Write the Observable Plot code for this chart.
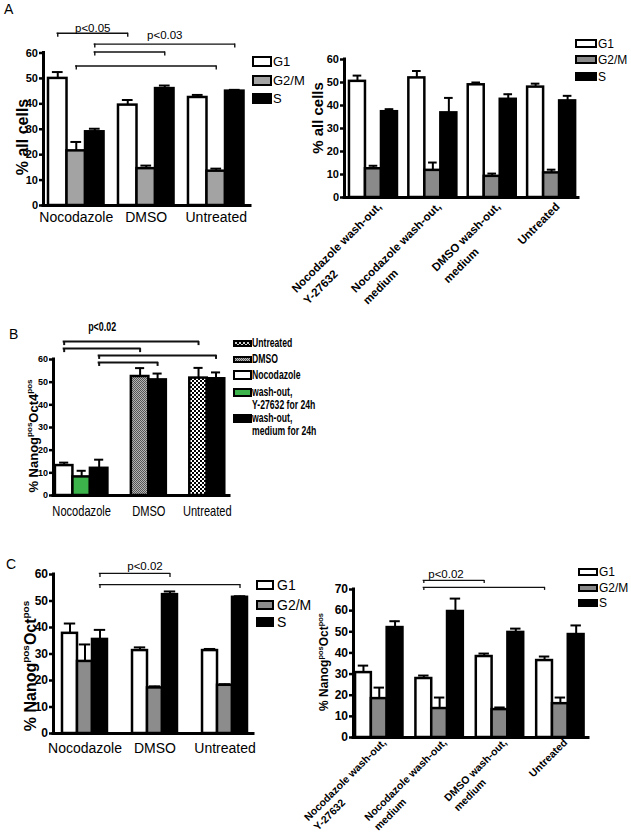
<!DOCTYPE html>
<html><head><meta charset="utf-8">
<script src="https://cdn.jsdelivr.net/npm/d3@7"></script>
<script src="https://cdn.jsdelivr.net/npm/@observablehq/plot@0.6"></script>
<style>
html,body{margin:0;padding:0;background:#fff;}
#fig{position:relative;width:631px;height:837px;overflow:hidden;background:#fff;font-family:"Liberation Sans",Arial,Helvetica,sans-serif;color:#000;}
.abs{position:absolute;white-space:pre;}
</style></head><body><div id="fig"></div>
<script>
// ---------------- DATA ----------------
const phases = ["G1", "G2/M", "S"];
const catsTreat = ["Nocodazole", "DMSO", "Untreated"];
const catsWash = ["Nocodazole wash-out,\nY-27632", "Nocodazole wash-out,\nmedium", "DMSO wash-out,\nmedium", "Untreated"];

// Panel A (left): % all cells
const aLeftG1 = [50, 39.5, 42.5],   aLeftG1Err = [2.5, 2, 1];
const aLeftG2M = [21.5, 14.5, 13.5], aLeftG2MErr = [3.5, 1.2, 1];
const aLeftS = [29, 46, 45],         aLeftSErr = [1.2, 1.2, 0.5];

// Panel A (right): % all cells after wash-out
const aRightG1 = [50.5, 52, 49, 48],      aRightG1Err = [2.5, 3, 1, 1.5];
const aRightG2M = [12.5, 11.8, 9.2, 10.7], aRightG2MErr = [1.3, 3.4, 1.2, 1.4];
const aRightS = [37.3, 36.8, 42.7, 42],    aRightSErr = [1.1, 6.5, 2.2, 2.2];

// Panel B: % Nanog+ Oct4+
const bSeries = ["Untreated", "DMSO", "Nocodazole", "wash-out, Y-27632 for 24h", "wash-out, medium for 24h"];
const bBarGroup = ["Nocodazole", "Nocodazole", "Nocodazole", "DMSO", "DMSO", "Untreated", "Untreated"];
const bBarSeries = ["Nocodazole", "wash-out, Y-27632 for 24h", "wash-out, medium for 24h", "DMSO", "wash-out, medium for 24h", "Untreated", "wash-out, medium for 24h"];
const bValues = [13.2, 8.2, 12, 52.5, 51, 51.8, 51.5];
const bErrors = [1.3, 2.7, 3.8, 3.7, 2.8, 4.5, 2.8];

// Panel C (left)
const cLeftG1 = [37.8, 31.3, 31.3],  cLeftG1Err = [3.7, 1.2, 0.6];
const cLeftG2M = [27.2, 17.2, 18.2], cLeftG2MErr = [6.4, 0.6, 0.4];
const cLeftS = [35.5, 52.4, 51.4],   cLeftSErr = [3.6, 1.2, 0.4];

// Panel C (right)
const cRightG1 = [30.7, 27.9, 38.3, 36.4], cRightG1Err = [3.3, 1.4, 1.4, 1.9];
const cRightG2M = [18.4, 13.7, 13.2, 16],  cRightG2MErr = [5.2, 5.2, 1, 2.9];
const cRightS = [52, 59.6, 49.7, 48.7],    cRightSErr = [3, 6.1, 1.8, 4.3];

// significance annotations
const aLeftBrackets = [
  {from: ["Nocodazole", "G1"], to: ["DMSO", "G1"], level: 67.8, label: "p<0.05", labelLevel: 69.8},
  {from: ["Nocodazole", "S"], to: ["Untreated", "S"], level: 63.5, label: "p<0.03", labelLevel: 66.9},
  {from: ["Nocodazole", "S"], to: ["DMSO", "S"], level: 60.4},
  {from: ["Nocodazole", "G2/M"], to: ["Untreated", "G2/M"], level: 54.9}
];
const bBrackets = [
  {from: ["Nocodazole", "Nocodazole"], to: ["Untreated", "Untreated"], level: 67.9},
  {from: ["Nocodazole", "Nocodazole"], to: ["DMSO", "DMSO"], level: 64.8, label: "p<0.02", labelLevel: 74.1},
  {from: ["Nocodazole", "wash-out, medium for 24h"], to: ["Untreated", "wash-out, medium for 24h"], level: 61.8},
  {from: ["Nocodazole", "wash-out, medium for 24h"], to: ["DMSO", "wash-out, medium for 24h"], level: 58.7}
];
const cLeftBrackets = [
  {from: ["Nocodazole", "S"], to: ["DMSO", "S"], level: 60.4, label: "p<0.02", labelLevel: 63.2},
  {from: ["Nocodazole", "S"], to: ["Untreated", "S"], level: 56.2}
];
const cRightBrackets = [
  {from: ["Nocodazole wash-out,\nmedium", "G1"], to: ["DMSO wash-out,\nmedium", "G1"], level: 74.3, label: "p<0.02", labelLevel: 77.3},
  {from: ["Nocodazole wash-out,\nmedium", "G1"], to: ["Untreated", "G1"], level: 71}
];

// ---------------- HELPERS ----------------
const fig = document.getElementById("fig");
const FONT = '"Liberation Sans", Arial, Helvetica, sans-serif';
const SVGNS = "http://www.w3.org/2000/svg";

function tidy(cats, cols) {
  const rows = [];
  cats.forEach((c, gi) => cols.forEach(([s, v, e], mi) => rows.push({group: c, gi, series: s, mi, value: v[gi], err: e[gi]})));
  return rows;
}

function makePanel(cfg) {
  const {rows, cats, left, top, width, height, px0, px1, y0px, yTopPx, yMax, lead, gap, trail} = cfg;
  const counts = cats.map(c => rows.filter(r => r.group === c).length);
  const starts = []; let acc = lead;
  counts.forEach((n, i) => { starts.push(acc); acc += n + (i < counts.length - 1 ? gap : 0); });
  const total = acc + trail;
  rows.forEach(r => { r.x1 = starts[r.gi] + r.mi; r.x2 = r.x1 + 1; r.cx = r.x1 + 0.5; });
  const centers = cats.map((c, i) => starts[i] + counts[i] / 2);
  const nameAt = new Map(centers.map((c, i) => [c, cats[i]]));
  const pxPerUnit = (y0px - yTopPx) / yMax;
  const cxOf = ([g, s]) => rows.find(r => r.group === g && r.series === s).cx;
  const cap = cfg.cap;
  const marks = [];
  if (cfg.defs) marks.push(cfg.defs);
  marks.push(Plot.rect(rows, {x1: "x1", x2: "x2", y1: 0, y2: "value", fill: d => cfg.fill(d), stroke: "#000", strokeWidth: cfg.barStroke}));
  marks.push(Plot.ruleX(rows, {x: "cx", y1: "value", y2: d => d.value + d.err, stroke: "#000", strokeWidth: 2}));
  marks.push(Plot.ruleY(rows, {y: d => d.value + d.err, x1: d => d.cx - cap, x2: d => d.cx + cap, stroke: "#000", strokeWidth: 2}));
  // axis lines
  marks.push(Plot.ruleY([0], {x1: 0, x2: total, stroke: "#000", strokeWidth: 3, strokeLinecap: "square"}));
  marks.push(Plot.ruleX([0], {y1: 0, y2: yMax, stroke: "#000", strokeWidth: 3, strokeLinecap: "square"}));
  marks.push(Plot.axisY({ticks: d3.range(0, yMax + 1, 10), tickSize: 4, tickPadding: 1.5, fontSize: cfg.tickFont, fontWeight: "bold", strokeWidth: 2.5, label: null}));
  if (cfg.rotate) {
    marks.push(Plot.axisX({ticks: centers, tickFormat: d => nameAt.get(d), tickSize: 0, tickPadding: cfg.catPad, tickRotate: -45, dx: cfg.catDx || 0, fontSize: cfg.catFont, fontWeight: "bold", label: null}));
  } else {
    marks.push(Plot.axisX({ticks: centers, tickFormat: d => nameAt.get(d), tickSize: 0, tickPadding: cfg.catPad, fontSize: cfg.catFont, fontWeight: cfg.catWeight || "normal", label: null}));
  }
  // brackets
  const bk = (cfg.brackets || []).map(b => ({...b, xa: cxOf(b.from), xb: cxOf(b.to)}));
  const tickU = cfg.bracketTick / pxPerUnit;
  marks.push(Plot.ruleY(bk, {y: "level", x1: "xa", x2: "xb", stroke: "#111", strokeWidth: cfg.bracketStroke, strokeLinecap: "square"}));
  const ends = bk.flatMap(b => [{x: b.xa, level: b.level}, {x: b.xb, level: b.level}]);
  marks.push(Plot.ruleX(ends, {x: "x", y1: "level", y2: d => d.level - tickU, stroke: "#111", strokeWidth: cfg.bracketStroke}));
  marks.push(Plot.text(bk.filter(b => b.label), {x: d => (d.xa + d.xb) / 2, y: "labelLevel", text: "label", fontSize: cfg.pFont, fontWeight: cfg.pWeight || "normal", dx: cfg.pDx || 0}));

  const svg = Plot.plot({
    width, height,
    marginLeft: px0 - left, marginRight: left + width - px1,
    marginTop: yTopPx - top, marginBottom: top + height - y0px,
    x: {domain: [0, total]},
    y: {domain: [0, yMax]},
    color: {type: "identity"},
    style: {position: "absolute", left: left + "px", top: top + "px", background: "transparent", overflow: "visible", fontFamily: FONT, color: "#000", maxWidth: "none"},
    marks
  });
  fig.appendChild(svg);
  if (cfg.rotate) fixRotated(svg, cfg.lineH || 1.45);
  if (cfg.yLabel) yLabel(svg, cfg.yLabel.x - left, cfg.yLabel.y - top, cfg.yLabel.parts, cfg.yLabel.size);
  if (cfg.condense) {
    svg.querySelectorAll('g[aria-label="x-axis tick label"] text, g[aria-label="text"] text').forEach(t => {
      const L = t.getComputedTextLength();
      t.setAttribute("textLength", (L * cfg.condense).toFixed(1));
      t.setAttribute("lengthAdjust", "spacingAndGlyphs");
    });
  }
  return svg;
}

function fixRotated(svg, lh) {
  svg.querySelectorAll('g[aria-label="x-axis tick label"] text').forEach(text => {
    const spans = text.querySelectorAll("tspan");
    const lines = spans.length ? [...spans].map(s => s.textContent) : [text.textContent];
    text.textContent = "";
    text.removeAttribute("y"); text.removeAttribute("dy");
    text.setAttribute("text-anchor", "start");
    const t1 = document.createElementNS(SVGNS, "tspan");
    t1.textContent = lines[0]; t1.setAttribute("x", 0); t1.setAttribute("y", "0.35em");
    text.appendChild(t1);
    const L = t1.getComputedTextLength();
    t1.setAttribute("x", -L);
    for (let i = 1; i < lines.length; i++) {
      const t = document.createElementNS(SVGNS, "tspan");
      t.textContent = lines[i]; t.setAttribute("x", -L); t.setAttribute("dy", lh + "em");
      text.appendChild(t);
    }
  });
}

function yLabel(svg, x, y, parts, size) {
  const t = d3.select(svg).append("text")
    .attr("transform", `translate(${x},${y}) rotate(-90)`)
    .attr("text-anchor", "middle").attr("font-weight", "bold")
    .attr("font-size", size).attr("font-family", FONT).attr("fill", "#000").attr("dy", "0.35em");
  const shift = size * 0.42;
  let raised = false;
  parts.forEach(([s, sup]) => {
    const ts = t.append("tspan").text(s);
    if (sup && !raised) { ts.attr("font-size", size * 0.62).attr("dy", -shift); raised = true; }
    else if (!sup && raised) { ts.attr("dy", shift); raised = false; }
    else if (sup) ts.attr("font-size", size * 0.62);
  });
}

function legend(items, o) {
  items.forEach((it, i) => {
    const bh = Array.isArray(o.boxH) ? o.boxH[i] : o.boxH;
    const box = document.createElement("div");
    box.className = "abs";
    box.style.cssText += `left:${o.left}px;top:${o.tops[i]}px;width:${o.boxW}px;height:${bh}px;border:2px solid #000;box-sizing:border-box;background:${it.bg};`;
    fig.appendChild(box);
    const tx = document.createElement("div");
    tx.className = "abs";
    tx.textContent = it.text;
    const lhp = o.lineH;
    tx.style.cssText += `left:${o.textLeft}px;top:${o.tops[i] + bh / 2 - lhp / 2}px;font-size:${o.font}px;line-height:${lhp}px;font-weight:${o.bold ? "bold" : "normal"};` +
      (o.squeeze ? `transform:scaleX(${o.squeeze});transform-origin:0 0;` : "");
    fig.appendChild(tx);
  });
}

function letter(t, x, y) {
  const d = document.createElement("div");
  d.className = "abs"; d.textContent = t;
  d.style.cssText += `left:${x}px;top:${y}px;font-size:14px;line-height:14px;`;
  fig.appendChild(d);
}

const phaseFill = (gray) => d => d.series === "G1" ? "#fff" : d.series === "G2/M" ? gray : "#000";
const cellsLabel = [["% all cells", false]];
const nanogOct4 = [["% Nanog", false], ["pos", true], ["Oct4", false], ["pos", true]];
const nanogOct = [["% Nanog", false], ["pos", true], ["Oct", false], ["pos", true]];

// ---------------- PANEL A ----------------
letter("A", 4, 2);
makePanel({
  rows: tidy(catsTreat, [["G1", aLeftG1, aLeftG1Err], ["G2/M", aLeftG2M, aLeftG2MErr], ["S", aLeftS, aLeftSErr]]),
  cats: catsTreat, left: 0, top: 0, width: 300, height: 235,
  px0: 43, px1: 250, y0px: 205, yTopPx: 52.5, yMax: 60,
  lead: 0.27, gap: 0.78, trail: 0.35, cap: 0.29, barStroke: 2.5,
  fill: phaseFill("#a3a3a3"), tickFont: 11, catFont: 14, catPad: 7,
  brackets: aLeftBrackets, bracketTick: 4, bracketStroke: 1.4, pFont: 11.5,
  yLabel: {x: 22, y: 137, parts: cellsLabel, size: 16}
});
legend(phases.map((p, i) => ({text: p, bg: ["#fff", "#a3a3a3", "#000"][i]})),
  {left: 252, tops: [56, 75, 93], boxW: 20, boxH: 11, textLeft: 273, font: 13, lineH: 15});

makePanel({
  rows: tidy(catsWash, [["G1", aRightG1, aRightG1Err], ["G2/M", aRightG2M, aRightG2MErr], ["S", aRightS, aRightSErr]]),
  cats: catsWash, left: 300, top: 20, width: 331, height: 300,
  px0: 344, px1: 578, y0px: 197, yTopPx: 59, yMax: 60,
  lead: 0.31, gap: 0.71, trail: 0.18, cap: 0.27, barStroke: 2.5,
  fill: phaseFill("#8a8a8a"), tickFont: 11, catFont: 11.5, catPad: 7, catDx: 6, rotate: true, lineH: 1.45,
  brackets: [], bracketTick: 4, bracketStroke: 1.4, pFont: 11,
  yLabel: {x: 318, y: 118, parts: cellsLabel, size: 15}
});
legend(phases.map((p, i) => ({text: p, bg: ["#fff", "#8a8a8a", "#000"][i]})),
  {left: 575, tops: [39, 55, 72], boxW: 22, boxH: 9, textLeft: 598, font: 12, lineH: 14});

// ---------------- PANEL B ----------------
letter("B", 9, 327);
const bFillMap = new Map([
  ["Nocodazole", "#fff"],
  ["wash-out, Y-27632 for 24h", "#3cb44b"],
  ["wash-out, medium for 24h", "#000"],
  ["DMSO", "url(#patDMSO)"],
  ["Untreated", "url(#patUntreated)"]
]);
const bRows = bBarGroup.map((g, i) => ({
  group: g, gi: catsTreat.indexOf(g), series: bBarSeries[i],
  mi: bBarGroup.slice(0, i).filter(x => x === g).length,
  value: bValues[i], err: bErrors[i]
}));
const bDefs = () => {
  const defs = d3.create("svg:defs");
  const p1 = defs.append("pattern").attr("id", "patUntreated").attr("patternUnits", "userSpaceOnUse").attr("width", 4).attr("height", 4);
  p1.append("rect").attr("width", 4).attr("height", 4).attr("fill", "#fff");
  p1.append("rect").attr("width", 2).attr("height", 2).attr("fill", "#000");
  p1.append("rect").attr("x", 2).attr("y", 2).attr("width", 2).attr("height", 2).attr("fill", "#000");
  const p2 = defs.append("pattern").attr("id", "patDMSO").attr("patternUnits", "userSpaceOnUse").attr("width", 2).attr("height", 2);
  p2.append("rect").attr("width", 2).attr("height", 2).attr("fill", "#b5b5b5");
  p2.append("rect").attr("width", 1).attr("height", 1).attr("fill", "#555");
  p2.append("rect").attr("x", 1).attr("y", 1).attr("width", 1).attr("height", 1).attr("fill", "#555");
  return defs.node();
};
makePanel({
  rows: bRows, cats: catsTreat, left: 0, top: 320, width: 300, height: 215,
  px0: 53, px1: 229, y0px: 495, yTopPx: 359, yMax: 60,
  lead: 0.11, gap: 1.34, trail: 0.27, cap: 0.26, barStroke: 2.5, defs: bDefs,
  fill: d => bFillMap.get(d.series), tickFont: 9, catFont: 15, catPad: 10, condense: 0.74,
  brackets: bBrackets, bracketTick: 4, bracketStroke: 2, pFont: 12, pWeight: "bold",
  yLabel: {x: 33, y: 436, parts: nanogOct4, size: 13}
});
legend(bSeries.map(s => ({text: s.replace(", ", ",\n"), bg: {
    "Untreated": "repeating-conic-gradient(#000 0 25%, #ccc 0 50%) 0 0/4px 4px",
    "DMSO": "repeating-conic-gradient(#555 0 25%, #bbb 0 50%) 0 0/2px 2px",
    "Nocodazole": "#fff",
    "wash-out, Y-27632 for 24h": "#3cb44b",
    "wash-out, medium for 24h": "#000"}[s]})),
  {left: 233, tops: [340, 356, 370, 388, 414], boxW: 19, boxH: [7, 7, 10, 9, 9], textLeft: 252, font: 12, lineH: 13, bold: true, squeeze: 0.72});

// ---------------- PANEL C ----------------
letter("C", 6, 557);
makePanel({
  rows: tidy(catsTreat, [["G1", cLeftG1, cLeftG1Err], ["G2/M", cLeftG2M, cLeftG2MErr], ["S", cLeftS, cLeftSErr]]),
  cats: catsTreat, left: 0, top: 555, width: 300, height: 210,
  px0: 53, px1: 253, y0px: 733, yTopPx: 574, yMax: 60,
  lead: 0.6, gap: 1.67, trail: 0.4, cap: 0.38, barStroke: 2.5,
  fill: phaseFill("#8c8c8c"), tickFont: 12, catFont: 14, catPad: 10,
  brackets: cLeftBrackets, bracketTick: 4, bracketStroke: 1.3, pFont: 11.5, pDx: 10,
  yLabel: {x: 30, y: 666, parts: nanogOct, size: 16}
});
legend(phases.map((p, i) => ({text: p, bg: ["#fff", "#8c8c8c", "#000"][i]})),
  {left: 256, tops: [580, 600, 617], boxW: 18, boxH: 10, textLeft: 277, font: 14, lineH: 16});

makePanel({
  rows: tidy(catsWash, [["G1", cRightG1, cRightG1Err], ["G2/M", cRightG2M, cRightG2MErr], ["S", cRightS, cRightSErr]]),
  cats: catsWash, left: 300, top: 560, width: 331, height: 277,
  px0: 353, px1: 588, y0px: 737, yTopPx: 589, yMax: 70,
  lead: 0.13, gap: 0.82, trail: 0.28, cap: 0.33, barStroke: 2.5,
  fill: phaseFill("#888"), tickFont: 12, catFont: 10.5, catPad: 3, catDx: 5, rotate: true, lineH: 1.3,
  brackets: cRightBrackets, bracketTick: 3, bracketStroke: 1.3, pFont: 11.5, pDx: -8,
  yLabel: {x: 324, y: 662, parts: nanogOct, size: 12}
});
legend(phases.map((p, i) => ({text: p, bg: ["#fff", "#888", "#000"][i]})),
  {left: 578, tops: [568, 584, 599], boxW: 20, boxH: 8, textLeft: 599, font: 12, lineH: 14});
</script></body></html>
